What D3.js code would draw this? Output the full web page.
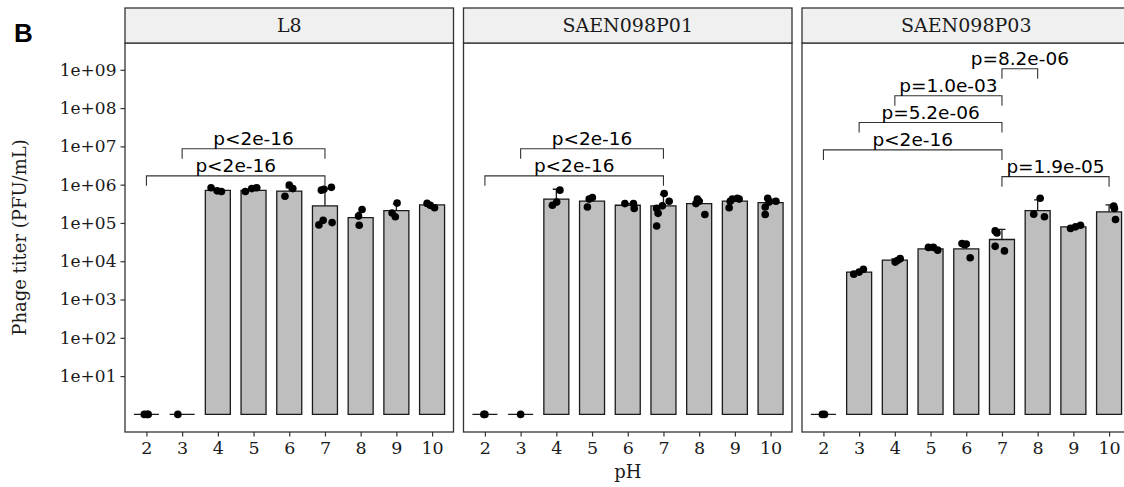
<!DOCTYPE html>
<html>
<head>
<meta charset="utf-8">
<script src="https://cdn.jsdelivr.net/npm/d3@7"></script>
<style>
  body { margin: 0; background: #fff; }
</style>
</head>
<body>
<svg id="chart"></svg>
<script>
// ---- data ----
const panels = ["L8", "SAEN098P01", "SAEN098P03"];
const phLevels = ["2", "3", "4", "5", "6", "7", "8", "9", "10"];
const yTicks = [1e1, 1e2, 1e3, 1e4, 1e5, 1e6, 1e7, 1e8, 1e9];

// bar heights (mean titer, PFU/mL) per pH; 1 = nothing recovered
const meanL8  = [1, 1, 7.1e5, 7.1e5, 6.8e5, 2.8e5, 1.38e5, 2.09e5, 2.95e5];
const meanP01 = [1, 1, 4.2e5, 3.7e5, 2.9e5, 2.8e5, 3.2e5, 3.7e5, 3.4e5];
const meanP03 = [1, 5.2e3, 1.07e4, 2.1e4, 2.1e4, 3.7e4, 2.1e5, 7.9e4, 1.95e5];

// top of error bars
const errTopL8  = [1, 1, 7.6e5, 7.6e5, 8.3e5, 7.9e5, 1.9e5, 3.16e5, 3.0e5];
const errTopP01 = [1, 1, 7.6e5, 4.5e5, 3.2e5, 5.5e5, 3.8e5, 4.2e5, 4.2e5];
const errTopP03 = [1, 5.6e3, 1.15e4, 2.2e4, 2.6e4, 6.8e4, 4.0e5, 8.3e4, 2.95e5];

// replicate points: [pH, titer, jitter (in category units)]
const pointsL8 = [
  ["2", 1, -0.06], ["2", 1, 0.02], ["2", 1, 0.05],
  ["3", 1, -0.12],
  ["4", 8.3e5, -0.19], ["4", 6.9e5, -0.02], ["4", 6.6e5, 0.10],
  ["5", 6.6e5, -0.23], ["5", 7.9e5, -0.05], ["5", 8.3e5, 0.09],
  ["6", 9.8e5, 0.0], ["6", 7.9e5, 0.10], ["6", 5.0e5, -0.12],
  ["7", 7.2e5, -0.10], ["7", 8.5e5, 0.18], ["7", 7.6e5, -0.03],
  ["7", 8.9e4, -0.17], ["7", 1.17e5, -0.05], ["7", 1.02e5, 0.20],
  ["8", 1.51e5, -0.06], ["8", 2.24e5, 0.04], ["8", 8.7e4, -0.04],
  ["9", 3.3e5, 0.02], ["9", 1.82e5, -0.12], ["9", 1.45e5, -0.03],
  ["10", 3.24e5, -0.14], ["10", 2.88e5, -0.05], ["10", 2.5e5, 0.07]
];
const pointsP01 = [
  ["2", 1, 0.0], ["2", 1, -0.03],
  ["3", 1, 0.0],
  ["4", 7.2e5, 0.10], ["4", 3.5e5, 0.01], ["4", 2.9e5, -0.11],
  ["5", 4.2e5, -0.08], ["5", 4.6e5, 0.01], ["5", 2.6e5, -0.13],
  ["6", 3.2e5, -0.08], ["6", 3.2e5, 0.16], ["6", 2.4e5, 0.18],
  ["7", 5.9e5, 0.02], ["7", 3.7e5, 0.16], ["7", 2.8e5, -0.03],
  ["7", 2.4e5, -0.19], ["7", 1.78e5, -0.15], ["7", 8.3e4, -0.19],
  ["8", 4.2e5, -0.05], ["8", 3.2e5, -0.09], ["8", 3.7e5, 0.0], ["8", 1.66e5, 0.16],
  ["9", 2.5e5, -0.16], ["9", 4.2e5, -0.07], ["9", 4.4e5, 0.07], ["9", 4.2e5, 0.12], ["9", 3.7e5, -0.13],
  ["10", 4.4e5, -0.08], ["10", 3.5e5, -0.04], ["10", 3.7e5, 0.15], ["10", 2.6e5, -0.15], ["10", 1.66e5, -0.15]
];
const pointsP03 = [
  ["2", 1, -0.03], ["2", 1, 0.03],
  ["3", 4.6e3, -0.15], ["3", 5.2e3, 0.0], ["3", 6.2e3, 0.12],
  ["4", 9.5e3, 0.01], ["4", 1.17e4, 0.15], ["4", 1.05e4, 0.07],
  ["5", 2.3e4, -0.06], ["5", 2.3e4, 0.08], ["5", 1.95e4, 0.20],
  ["6", 2.9e4, -0.12], ["6", 2.8e4, 0.0], ["6", 1.23e4, 0.11], ["6", 2.7e4, -0.05],
  ["7", 6.2e4, -0.19], ["7", 5.5e4, -0.14], ["7", 2.45e4, -0.19], ["7", 1.86e4, 0.07],
  ["8", 4.4e5, 0.07], ["8", 1.7e5, -0.11], ["8", 1.45e5, 0.19],
  ["9", 7.2e4, -0.08], ["9", 7.9e4, 0.06], ["9", 8.7e4, 0.20],
  ["10", 2.75e5, 0.13], ["10", 2.4e5, 0.15], ["10", 1.23e5, 0.18]
];

// significance brackets: [from pH, to pH, height (titer), label]
const bracketsL8 = [
  ["3", "7", 8.7e6, "p<2e-16"],
  ["2", "7", 1.7e6, "p<2e-16"]
];
const bracketsP01 = [
  ["3", "7", 8.7e6, "p<2e-16"],
  ["2", "7", 1.7e6, "p<2e-16"]
];
const bracketsP03 = [
  ["7", "8", 1.07e9, "p=8.2e-06"],
  ["4", "7", 2.1e8, "p=1.0e-03"],
  ["3", "7", 4.2e7, "p=5.2e-06"],
  ["2", "7", 8.1e6, "p<2e-16"],
  ["7", "10", 1.62e6, "p=1.9e-05"]
];

const means = [meanL8, meanP01, meanP03];
const errTops = [errTopL8, errTopP01, errTopP03];
const points = [pointsL8, pointsP01, pointsP03];
const brackets = [bracketsL8, bracketsP01, bracketsP03];

// ---- layout ----
const W = 1124, H = 487;
const plotTop = 43, plotBottom = 432, stripTop = 8;
const panelLeft0 = 125, panelW = 328.5, panelGap = 10;
const ink = "#1a1a1a", frame = "#333333";

const svg = d3.select("#chart")
  .attr("width", W)
  .attr("height", H)
  .style("font-family", "DejaVu Serif");

const y = d3.scaleLog()
  .domain([Math.pow(10, -0.46), Math.pow(10, 9.7)])
  .range([plotBottom, plotTop]);

const fmt = d => "1e+" + String(Math.round(Math.log10(d))).padStart(2, "0");

panels.forEach((name, i) => {
  const left = panelLeft0 + i * (panelW + panelGap);
  const x = d3.scalePoint()
    .domain(phLevels)
    .range([left, left + panelW])
    .padding(0.6);
  const step = x.step();
  const bw = step * 0.7;

  const g = svg.append("g");
  const rows = phLevels.map((ph, k) => ({ph: ph, v: means[i][k], top: errTops[i][k]}));

  // bars (drawn as paths so zero-height bars still show as a line)
  g.selectAll("path.bar")
    .data(rows)
    .join("path")
    .attr("class", "bar")
    .attr("d", d => {
      const x0 = x(d.ph) - bw / 2, x1 = x(d.ph) + bw / 2;
      return `M${x0},${y(1)}H${x1}V${y(d.v)}H${x0}Z`;
    })
    .attr("fill", "#bebebe")
    .attr("stroke", ink)
    .attr("stroke-width", 1.3);

  // error bars (upper only)
  g.selectAll("path.err")
    .data(rows.filter(d => d.top > d.v))
    .join("path")
    .attr("class", "err")
    .attr("d", d => {
      const cx = x(d.ph), cw = step * 0.1;
      return `M${cx},${y(d.v)}V${y(d.top)}M${cx - cw},${y(d.top)}H${cx + cw}`;
    })
    .attr("fill", "none")
    .attr("stroke", ink)
    .attr("stroke-width", 1.3);

  // replicate points
  g.selectAll("circle")
    .data(points[i])
    .join("circle")
    .attr("cx", d => x(d[0]) + d[2] * step)
    .attr("cy", d => y(d[1]))
    .attr("r", 3.8)
    .attr("fill", "#000");

  // significance brackets
  const tip = 10;
  const br = g.selectAll("g.bracket")
    .data(brackets[i])
    .join("g")
    .attr("class", "bracket");
  br.append("path")
    .attr("d", d => `M${x(d[0])},${y(d[2]) + tip}V${y(d[2])}H${x(d[1])}V${y(d[2]) + tip}`)
    .attr("fill", "none")
    .attr("stroke", frame)
    .attr("stroke-width", 1.1);
  br.append("text")
    .attr("x", d => (x(d[0]) + x(d[1])) / 2)
    .attr("y", d => y(d[2]) - 4)
    .attr("text-anchor", "middle")
    .style("font-family", "DejaVu Sans")
    .style("font-size", "18.5px")
    .attr("fill", "#000")
    .text(d => d[3]);

  // panel frame
  g.append("rect")
    .attr("x", left).attr("y", plotTop)
    .attr("width", panelW).attr("height", plotBottom - plotTop)
    .attr("fill", "none")
    .attr("stroke", frame)
    .attr("stroke-width", 1.3);

  // strip
  g.append("rect")
    .attr("x", left).attr("y", stripTop)
    .attr("width", panelW).attr("height", plotTop - stripTop)
    .attr("fill", "#f0f0f0")
    .attr("stroke", frame)
    .attr("stroke-width", 1.3);
  g.append("text")
    .attr("x", left + panelW / 2)
    .attr("y", (stripTop + plotTop) / 2)
    .attr("dy", "0.35em")
    .attr("text-anchor", "middle")
    .style("font-size", "19px")
    .attr("fill", ink)
    .text(name);

  // x axis
  const xa = svg.append("g")
    .attr("transform", `translate(0,${plotBottom})`)
    .call(d3.axisBottom(x).tickSize(4.5).tickPadding(5));
  xa.select(".domain").remove();
  xa.selectAll("line").attr("stroke", frame).attr("stroke-width", 1.2);
  xa.selectAll("text")
    .style("font-family", "DejaVu Serif")
    .style("font-size", "17.5px")
    .attr("fill", ink);

  // y axis only on the first panel
  if (i === 0) {
    const ya = svg.append("g")
      .attr("transform", `translate(${left},0)`)
      .call(d3.axisLeft(y).tickValues(yTicks).tickFormat(fmt).tickSize(4.5).tickPadding(4));
    ya.select(".domain").remove();
    ya.selectAll("line").attr("stroke", frame).attr("stroke-width", 1.2);
    ya.selectAll("text")
      .style("font-family", "DejaVu Serif")
      .style("font-size", "17px")
      .attr("fill", ink);
  }
});

// axis titles
svg.append("text")
  .attr("x", panelLeft0 + (3 * panelW + 2 * panelGap) / 2)
  .attr("y", 478)
  .attr("text-anchor", "middle")
  .style("font-size", "18px")
  .attr("fill", ink)
  .text("pH");

svg.append("text")
  .attr("transform", `translate(26,${(plotTop + plotBottom) / 2}) rotate(-90)`)
  .attr("text-anchor", "middle")
  .style("font-size", "18px")
  .attr("fill", ink)
  .text("Phage titer (PFU/mL)");

// panel tag
svg.append("text")
  .attr("x", 14)
  .attr("y", 42)
  .style("font-family", "Liberation Sans")
  .style("font-weight", "bold")
  .style("font-size", "26px")
  .attr("fill", "#000")
  .text("B");
</script>
</body>
</html>
